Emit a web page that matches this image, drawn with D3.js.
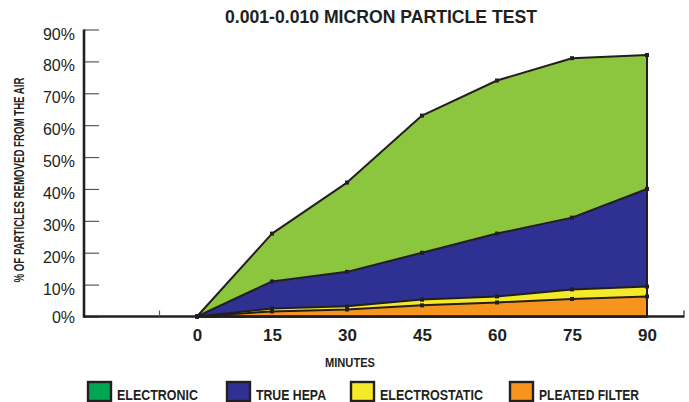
<!DOCTYPE html>
<html>
<head>
<meta charset="utf-8">
<script src="https://cdn.jsdelivr.net/npm/d3@7"></script>
<style>
  html, body { margin: 0; padding: 0; background: #ffffff; }
  svg { display: block; }
  text { font-family: "Liberation Sans", Arial, Helvetica, sans-serif; fill: #231f20; }
</style>
</head>
<body>
<svg id="chart" width="689" height="402"></svg>
<script>
// ---- data ----
const minutes = [0, 15, 30, 45, 60, 75, 90];
const electronic = [0, 26, 42, 63, 74, 81, 82];
const trueHepa = [0, 11, 14, 20, 26, 31, 40];
const electrostatic = [0, 2.5, 3.2, 5.3, 6.3, 8.5, 9.4];
const pleatedFilter = [0, 1.6, 2.2, 3.5, 4.4, 5.5, 6.3];
const seriesNames = ["ELECTRONIC", "TRUE HEPA", "ELECTROSTATIC", "PLEATED FILTER"];
const yTicks = [0, 10, 20, 30, 40, 50, 60, 70, 80, 90];
const extraXTicks = [-7.5];
const title = "0.001-0.010 MICRON PARTICLE TEST";
const yTitle = "% OF PARTICLES REMOVED FROM THE AIR";
const xTitle = "MINUTES";

const areaColors = ["#8cc63f", "#2e3192", "#f5ea2a", "#f7941e"];
const legendColors = ["#00a651", "#2e3192", "#f5ea2a", "#f7941e"];
const legendTextWidths = [81, 70, 103, 100];
const legendX = [87, 226, 350, 509];
const ink = "#231f20";

const svg = d3.select("#chart");

const x = d3.scaleLinear().domain([0, 90]).range([197, 647]);
const y = d3.scaleLinear().domain([0, 90]).range([316.5, 29.5]);
const axisLeftX = 84;
const axisRightX = 684;

// title
svg.append("text")
  .attr("x", 381).attr("y", 23)
  .attr("text-anchor", "middle")
  .attr("font-size", 17.5).attr("font-weight", "bold")
  .attr("textLength", 312).attr("lengthAdjust", "spacingAndGlyphs")
  .text(title);

// y axis title
svg.append("text")
  .attr("transform", `translate(23.5,180) rotate(-90)`)
  .attr("text-anchor", "middle")
  .attr("font-size", 14).attr("font-weight", "bold")
  .attr("textLength", 205).attr("lengthAdjust", "spacingAndGlyphs")
  .text(yTitle);

// areas
const series = [electronic, trueHepa, electrostatic, pleatedFilter];
const area = d3.area()
  .x((d, i) => x(minutes[i]))
  .y0(y(0))
  .y1(d => y(d));

series.forEach((vals, k) => {
  svg.append("path")
    .datum(vals)
    .attr("d", area)
    .attr("fill", areaColors[k])
    .attr("stroke", ink)
    .attr("stroke-width", 2)
    .attr("stroke-linejoin", "round");
});

// markers
series.forEach(vals => {
  svg.append("g").selectAll("rect")
    .data(vals)
    .join("rect")
    .attr("x", (d, i) => x(minutes[i]) - 2)
    .attr("y", d => y(d) - 2)
    .attr("width", 4).attr("height", 4)
    .attr("fill", ink);
});

// y axis
const yAxis = d3.axisRight(y).tickValues(yTicks).tickSize(15).tickFormat("");
const gy = svg.append("g").attr("transform", `translate(${axisLeftX},0)`).call(yAxis);
gy.select(".domain").remove();
gy.selectAll(".tick line").attr("stroke", "#58595b").attr("stroke-width", 1.2);
svg.append("line")
  .attr("x1", axisLeftX).attr("x2", axisLeftX)
  .attr("y1", y(90)).attr("y2", y(0) + 1.2)
  .attr("stroke", ink).attr("stroke-width", 2.6);

svg.append("g").selectAll("text")
  .data(yTicks)
  .join("text")
  .attr("x", 75)
  .attr("y", d => y(d) + (d === 0 ? 6 : 10))
  .attr("text-anchor", "end")
  .attr("font-size", 16)
  .text(d => d + "%");

// x axis line
svg.append("line")
  .attr("x1", axisLeftX).attr("x2", axisRightX)
  .attr("y1", y(0)).attr("y2", y(0))
  .attr("stroke", ink).attr("stroke-width", 2.4);
svg.append("line")
  .attr("x1", axisRightX).attr("x2", axisRightX)
  .attr("y1", y(0) + 1).attr("y2", y(0) - 6)
  .attr("stroke", ink).attr("stroke-width", 1.2);
svg.append("g").selectAll("line")
  .data(extraXTicks)
  .join("line")
  .attr("x1", d => x(d)).attr("x2", d => x(d))
  .attr("y1", y(0)).attr("y2", y(0) - 6)
  .attr("stroke", "#58595b").attr("stroke-width", 1.2);

// x tick labels
const xAxis = d3.axisBottom(x).tickValues(minutes).tickSize(0).tickPadding(0);
const gx = svg.append("g").attr("transform", `translate(0,${y(0)})`).call(xAxis);
gx.select(".domain").remove();
gx.selectAll(".tick text")
  .attr("dy", null)
  .attr("y", 24)
  .attr("font-size", 17).attr("font-weight", "bold")
  .attr("font-family", "'Liberation Sans', Arial, sans-serif")
  .attr("fill", ink);

// x title
svg.append("text")
  .attr("x", 350).attr("y", 367)
  .attr("text-anchor", "middle")
  .attr("font-size", 12.5).attr("font-weight", "bold")
  .attr("textLength", 50).attr("lengthAdjust", "spacingAndGlyphs")
  .text(xTitle);

// legend
const lg = svg.append("g").selectAll("g")
  .data(seriesNames)
  .join("g")
  .attr("transform", (d, i) => `translate(${legendX[i]},382)`);
lg.append("rect")
  .attr("x", 1).attr("y", 0)
  .attr("width", 23).attr("height", 19)
  .attr("fill", (d, i) => legendColors[i])
  .attr("stroke", ink).attr("stroke-width", 2.4);
lg.append("text")
  .attr("x", 30).attr("y", 17.5)
  .attr("font-size", 14).attr("font-weight", "bold")
  .attr("textLength", (d, i) => legendTextWidths[i])
  .attr("lengthAdjust", "spacingAndGlyphs")
  .text(d => d);
</script>
</body>
</html>
